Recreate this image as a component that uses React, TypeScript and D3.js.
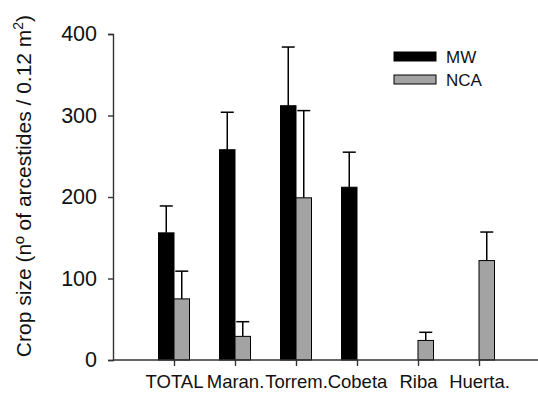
import React, { useEffect, useRef } from "react";
import * as d3 from "d3";

// sites on the x axis
const sites = ["TOTAL", "Maran.", "Torrem.", "Cobeta", "Riba", "Huerta."];
const seriesNames = ["MW", "NCA"];

// mean crop size and upper error (SE), null = no bar
const mwMean: (number | null)[] = [156, 258, 312, 212, null, null];
const mwErr: (number | null)[] = [33, 46, 72, 43, null, null];
const ncaMean: (number | null)[] = [75, 29, 199, null, 24, 122];
const ncaErr: (number | null)[] = [34, 18, 107, null, 10, 35];

const yTicks = [0, 100, 200, 300, 400];

const W = 538;
const H = 395;
const fills: Record<string, string> = { MW: "#000000", NCA: "#a3a3a3" };
const font = "'Liberation Sans', Arial, sans-serif";

export default function App() {
  const ref = useRef<SVGSVGElement | null>(null);

  useEffect(() => {
    const svg = d3.select(ref.current);
    svg.selectAll("*").remove();

    const x = d3.scalePoint<string>().domain(sites).range([113, 540]).padding(1);
    const xs = d3.scaleBand<string>().domain(seriesNames).range([-15.5, 15.5]);
    const y = d3.scaleLinear().domain([0, 400]).range([360, 34]);

    const rows = sites.flatMap((s, i) => [
      { site: s, key: "MW", v: mwMean[i], e: mwErr[i] },
      { site: s, key: "NCA", v: ncaMean[i], e: ncaErr[i] },
    ]).filter((d) => d.v !== null) as { site: string; key: string; v: number; e: number }[];

    // error bars (drawn first, bar covers lower part)
    const eb = svg.append("g").attr("stroke", "#000").attr("stroke-width", 1.5);
    rows.forEach((d) => {
      const cx = x(d.site)! + xs(d.key)! + xs.bandwidth() / 2;
      eb.append("line").attr("x1", cx).attr("x2", cx).attr("y1", y(d.v)).attr("y2", y(d.v + d.e));
      eb.append("line").attr("x1", cx - 6.5).attr("x2", cx + 6.5).attr("y1", y(d.v + d.e)).attr("y2", y(d.v + d.e));
    });

    svg.append("g")
      .selectAll("rect")
      .data(rows)
      .join("rect")
      .attr("x", (d) => x(d.site)! + xs(d.key)!)
      .attr("width", xs.bandwidth())
      .attr("y", (d) => y(d.v))
      .attr("height", (d) => y(0) - y(d.v))
      .attr("fill", (d) => fills[d.key])
      .attr("stroke", "#000")
      .attr("stroke-width", 1);

    // y axis
    const ya = svg.append("g").attr("transform", "translate(113,0)")
      .call(d3.axisLeft(y).tickValues(yTicks).tickSize(5).tickPadding(11).tickFormat(d3.format("d")));
    ya.select(".domain").attr("stroke", "#333").attr("stroke-width", 1.4);
    ya.selectAll(".tick line").attr("stroke", "#333").attr("stroke-width", 1.4);
    ya.selectAll("text").attr("font-family", font).attr("font-size", 21.5).attr("fill", "#111");

    // x axis
    const xa = svg.append("g").attr("transform", "translate(0,360)")
      .call(d3.axisBottom(x).tickSize(6).tickSizeOuter(0).tickPadding(9));
    xa.select(".domain").attr("d", "M113,0H540").attr("stroke", "#333").attr("stroke-width", 1.4);
    xa.selectAll(".tick line").attr("stroke", "#333").attr("stroke-width", 1.4);
    xa.selectAll("text").attr("font-family", font).attr("font-size", 18.5).attr("fill", "#111");

    // y title
    const t = svg.append("text")
      .attr("transform", "translate(31,186) rotate(-90)")
      .attr("text-anchor", "middle")
      .attr("font-family", font)
      .attr("font-size", 21)
      .attr("fill", "#111");
    t.append("tspan").text("Crop size (nº of arcestides / 0.12 m");
    t.append("tspan").attr("font-size", 14).attr("dy", -8).text("2");
    t.append("tspan").attr("dy", 8).text(")");

    // legend
    const lg = svg.append("g").attr("transform", "translate(394,52)");
    seriesNames.forEach((k, i) => {
      lg.append("rect").attr("x", 0).attr("y", i * 23).attr("width", 42).attr("height", 9)
        .attr("fill", fills[k]).attr("stroke", "#000").attr("stroke-width", 1);
      lg.append("text").attr("x", 52).attr("y", i * 23 + 11).attr("font-family", font)
        .attr("font-size", 17).attr("fill", "#111").text(k);
    });
  }, []);

  return (
    <svg ref={ref} width={W} height={H}
      style={{ position: "absolute", left: 0, top: 0, display: "block", background: "#fff" }} />
  );
}
